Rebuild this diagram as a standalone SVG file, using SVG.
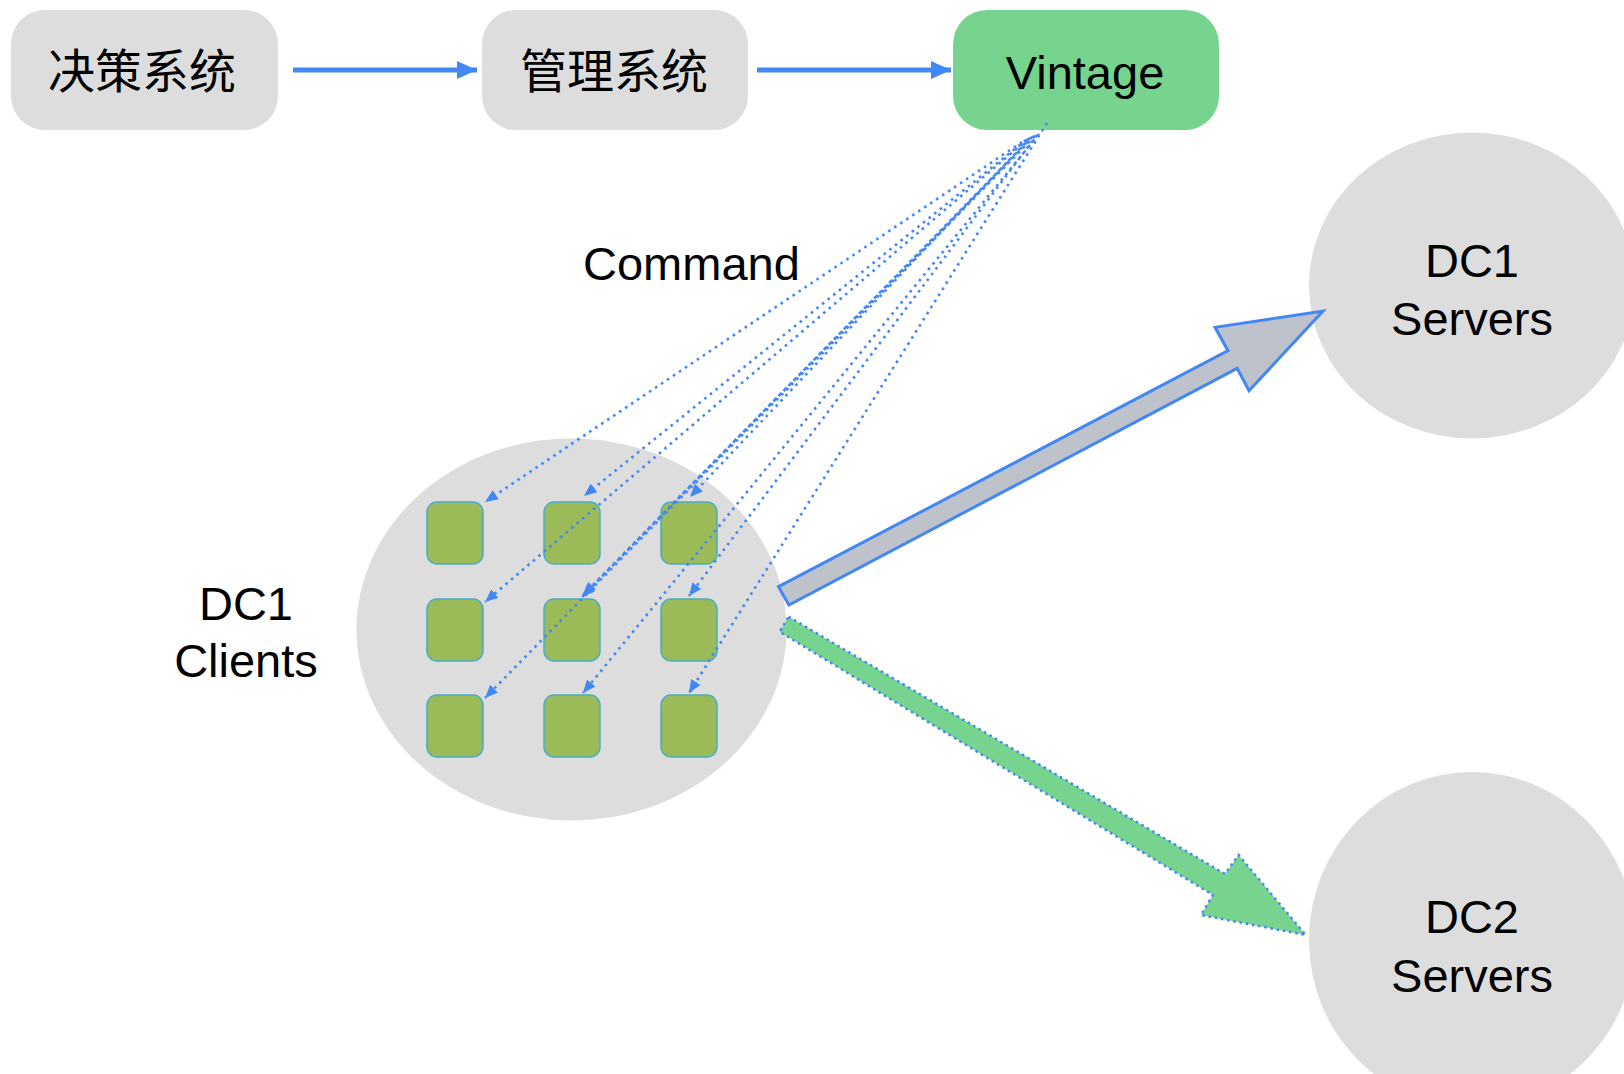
<svg xmlns="http://www.w3.org/2000/svg" width="1624" height="1074" viewBox="0 0 1624 1074">
<style>
.box{fill:#DDDDDD;}
.lbl{font-family:"Liberation Sans",Arial,"Noto Sans CJK SC",sans-serif;font-size:47px;fill:#000;text-anchor:middle;}
.cjk{font-family:"Noto Sans CJK SC","Liberation Sans",sans-serif;font-size:47px;fill:#000;text-anchor:middle;}
.sq{fill:#9BBB59;stroke:#4BACC6;stroke-width:1.5;}
.flow{stroke:#4387F5;stroke-width:5;fill:none;}
.cmd{stroke:#4387F5;stroke-width:2.6;stroke-dasharray:2.6 4.6;fill:none;marker-end:url(#dotHead);}
</style>
<defs>
<marker id="flowHead" markerUnits="userSpaceOnUse" markerWidth="20" markerHeight="18" refX="20" refY="9" orient="auto">
<path d="M0,0 L20,9 L0,18 z" fill="#4387F5"/>
</marker>
<marker id="dotHead" markerUnits="userSpaceOnUse" markerWidth="13" markerHeight="11" refX="13" refY="5.5" orient="auto">
<path d="M0,0 L13,5.5 L0,11 z" fill="#4387F5"/>
</marker>
</defs>

<g id="decision">
<rect class="box" x="11" y="10" width="267" height="120" rx="34" ry="34"/>
<text class="cjk" x="142" y="88">决策系统</text>
</g>
<g id="management">
<rect class="box" x="482" y="10" width="266" height="120" rx="34" ry="34"/>
<text class="cjk" x="614" y="88">管理系统</text>
</g>
<g id="vintage">
<rect x="953" y="10" width="266" height="120" rx="34" ry="34" fill="#77D48E"/>
<text class="lbl" x="1085" y="89">Vintage</text>
</g>

<g id="dc1-clients">
<ellipse class="box" cx="571.5" cy="629.5" rx="215" ry="191"/>
<rect class="sq" x="427" y="502" width="56" height="62" rx="10"/>
<rect class="sq" x="544" y="502" width="56" height="62" rx="10"/>
<rect class="sq" x="661" y="502" width="56" height="62" rx="10"/>
<rect class="sq" x="427" y="599" width="56" height="62" rx="10"/>
<rect class="sq" x="544" y="599" width="56" height="62" rx="10"/>
<rect class="sq" x="661" y="599" width="56" height="62" rx="10"/>
<rect class="sq" x="427" y="695" width="56" height="62" rx="10"/>
<rect class="sq" x="544" y="695" width="56" height="62" rx="10"/>
<rect class="sq" x="661" y="695" width="56" height="62" rx="10"/>
</g>
<g id="dc1-clients-label">
<text class="lbl" x="246" y="620">DC1</text>
<text class="lbl" x="246" y="677">Clients</text>
</g>

<g id="dc1-servers">
<ellipse class="box" cx="1472" cy="285.5" rx="163" ry="153"/>
<text class="lbl" x="1472" y="277">DC1</text>
<text class="lbl" x="1472" y="335">Servers</text>
</g>
<g id="dc2-servers">
<ellipse class="box" cx="1472" cy="940" rx="163" ry="168"/>
<text class="lbl" x="1472" y="933">DC2</text>
<text class="lbl" x="1472" y="992">Servers</text>
</g>

<g id="command-label">
<text class="lbl" x="583" y="280" style="text-anchor:start">Command</text>
</g>

<g id="connectors">
<line class="flow" x1="293" y1="70" x2="477" y2="70" marker-end="url(#flowHead)"/>
<line class="flow" x1="757" y1="70" x2="951" y2="70" marker-end="url(#flowHead)"/>

<line class="cmd" x1="1022" y1="142" x2="485" y2="502"/>
<line class="cmd" x1="1026" y1="140" x2="584" y2="496"/>
<line class="cmd" x1="1028" y1="139" x2="485" y2="602"/>
<line class="cmd" x1="1030" y1="138" x2="690" y2="497"/>
<line class="cmd" x1="1032" y1="137" x2="582" y2="597"/>
<line class="cmd" x1="1034" y1="136" x2="583" y2="595"/>
<line class="cmd" x1="1035" y1="136" x2="485" y2="698"/>
<line class="cmd" x1="1037" y1="135" x2="689" y2="596"/>
<line class="cmd" x1="1039" y1="134" x2="583" y2="693"/>
<line class="cmd" x1="1047" y1="123" x2="689" y2="693"/>

<polygon points="778.5,586.7 1228,350.7 1215,327.3 1323,311 1249,390.7 1237.2,368.3 788.9,605" fill="#BEC2CA" stroke="#4387F5" stroke-width="3" stroke-linejoin="miter"/>
<polygon points="788.6,616.7 1225,874 1238.6,855 1305.7,935 1201,915 1212.9,895 779.6,631.7" fill="#76D48F" stroke="#4387F5" stroke-width="2.5" stroke-dasharray="2.5 3.8"/>
</g>
</svg>
